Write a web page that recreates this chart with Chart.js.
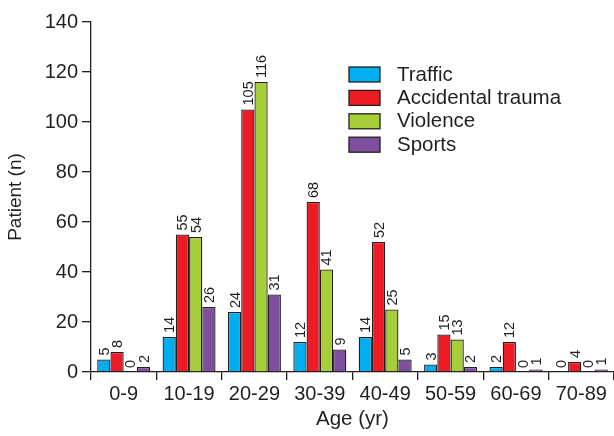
<!DOCTYPE html>
<html>
<head>
<meta charset="utf-8">
<script src="https://cdn.jsdelivr.net/npm/chart.js@4/dist/chart.umd.min.js"></script>
<style>
  html, body { margin: 0; padding: 0; background: #fff; }
  #wrap { width: 614px; height: 436px; position: relative; }
</style>
</head>
<body>
<div id="wrap"><canvas id="ageChart"></canvas></div>
<script>
const ageGroups = ['0-9', '10-19', '20-29', '30-39', '40-49', '50-59', '60-69', '70-89'];
const seriesNames = ['Traffic', 'Accidental trauma', 'Violence', 'Sports'];
const traffic = [5, 14, 24, 12, 14, 3, 2, 0];
const accidental = [8, 55, 105, 68, 52, 15, 12, 4];
const violence = [0, 54, 116, 41, 25, 13, 0, 0];
const sports = [2, 26, 31, 9, 5, 2, 1, 1];
const yTicks = [0, 20, 40, 60, 80, 100, 120, 140];

const seriesColors = ['#00aeef', '#ed1c24', '#a6ce39', '#7f4f9f'];
const edge = '#231f20';
const fontFamily = 'Arial, "Liberation Sans", Helvetica, sans-serif';

// value labels written upwards over each bar
const barLabels = {
  id: 'barLabels',
  afterDatasetsDraw(chart) {
    const ctx = chart.ctx;
    ctx.save();
    ctx.fillStyle = edge;
    ctx.font = '14.5px ' + fontFamily;
    ctx.textAlign = 'left';
    ctx.textBaseline = 'middle';
    chart.data.datasets.forEach((ds, i) => {
      chart.getDatasetMeta(i).data.forEach((bar, j) => {
        ctx.save();
        ctx.translate(bar.x, bar.y - 4);
        ctx.rotate(-Math.PI / 2);
        ctx.fillText(String(ds.data[j]), 0, 1);
        ctx.restore();
      });
    });
    ctx.restore();
  }
};

// legend box inside the plot, upper right
const boxLegend = {
  id: 'boxLegend',
  afterDraw(chart) {
    const ctx = chart.ctx;
    ctx.save();
    ctx.font = '20.5px ' + fontFamily;
    ctx.textBaseline = 'middle';
    ctx.textAlign = 'left';
    chart.data.datasets.forEach((ds, i) => {
      const y = 67 + i * 23.4;
      ctx.fillStyle = ds.backgroundColor;
      ctx.fillRect(349, y, 31, 15);
      ctx.strokeStyle = edge;
      ctx.lineWidth = 1.3;
      ctx.strokeRect(349, y, 31, 15);
      ctx.fillStyle = edge;
      ctx.fillText(ds.label, 397, y + 8);
    });
    ctx.restore();
  }
};

const seriesData = [traffic, accidental, violence, sports];

new Chart(document.getElementById('ageChart'), {
  type: 'bar',
  data: {
    labels: ageGroups,
    datasets: seriesNames.map((name, i) => ({
      label: name,
      data: seriesData[i],
      backgroundColor: seriesColors[i],
      borderColor: edge,
      borderWidth: 1.3,
      borderSkipped: 'start',
      barPercentage: 1,
      categoryPercentage: 0.81
    }))
  },
  options: {
    responsive: true,
    maintainAspectRatio: false,
    animation: false,
    layout: { padding: { top: 22, right: 0, left: 0, bottom: 0 } },
    plugins: {
      legend: { display: false },
      tooltip: { enabled: false }
    },
    scales: {
      x: {
        afterFit: (scale) => { scale.height = 64; },
        grid: {
          offset: true,
          drawOnChartArea: false,
          drawTicks: true,
          tickLength: 8,
          color: edge,
          lineWidth: 1.3
        },
        border: { color: edge, width: 1.3 },
        ticks: {
          color: edge,
          padding: 2,
          font: { family: fontFamily, size: 20 }
        },
        title: {
          display: true,
          text: 'Age (yr)',
          color: edge,
          padding: { top: 5 },
          font: { family: fontFamily, size: 20.5 }
        }
      },
      y: {
        min: 0,
        max: 140,
        afterFit: (scale) => { scale.width = 91; },
        afterBuildTicks: (scale) => { scale.ticks = yTicks.map((v) => ({ value: v })); },
        grid: {
          drawOnChartArea: false,
          drawTicks: true,
          tickLength: 9,
          color: edge,
          lineWidth: 1.3
        },
        border: { color: edge, width: 1.3 },
        ticks: {
          color: edge,
          padding: 4,
          font: { family: fontFamily, size: 20 }
        },
        title: {
          display: true,
          text: 'Patient (n)',
          color: edge,
          padding: { bottom: 0 },
          font: { family: fontFamily, size: 19 }
        }
      }
    }
  },
  plugins: [barLabels, boxLegend]
});
</script>
</body>
</html>
